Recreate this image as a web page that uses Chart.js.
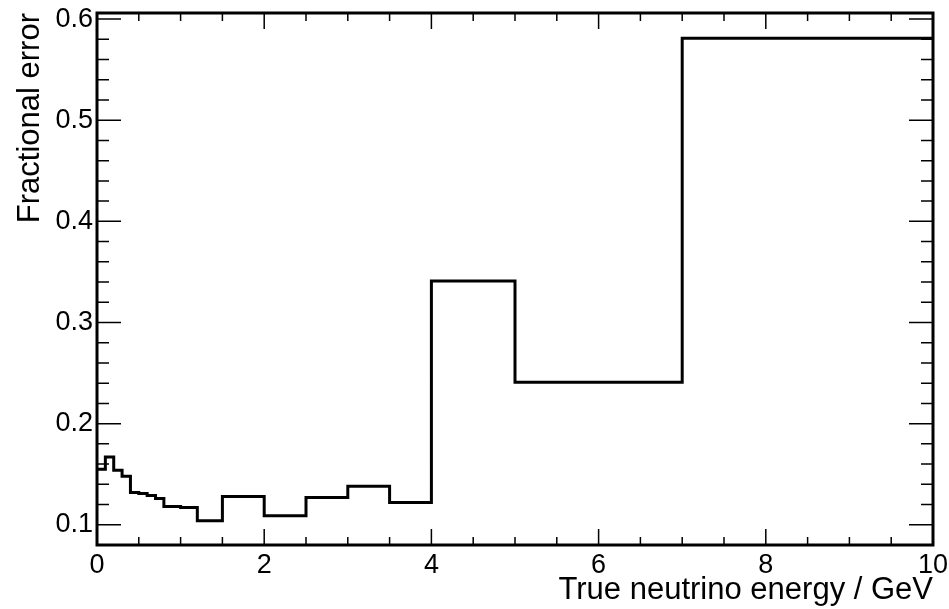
<!DOCTYPE html>
<html>
<head>
<meta charset="utf-8">
<script src="https://cdn.jsdelivr.net/npm/chart.js@4/dist/chart.umd.min.js"></script>
<style>
  body { margin: 0; background: #fff; }
  canvas { display: block; }
</style>
</head>
<body>
<canvas id="err-chart" width="949" height="609"></canvas>
<script>
// bin edges in GeV (last bin ends at 10)
const binEdges = [0, 0.1, 0.2, 0.3, 0.4, 0.5, 0.6, 0.7, 0.8, 1.0, 1.2, 1.5, 2.0, 2.5, 3.0, 3.5, 4.0, 5.0, 7.0, 10.0];
const fracError = [0.155, 0.167, 0.154, 0.148, 0.132, 0.131, 0.129, 0.126, 0.118, 0.117,
                   0.104, 0.128, 0.109, 0.127, 0.138, 0.122, 0.341, 0.241, 0.581];
const xTicks = [0, 2, 4, 6, 8, 10];
const yTicks = [0.1, 0.2, 0.3, 0.4, 0.5, 0.6];

const FONT = '"Liberation Sans", Arial, Helvetica, sans-serif';

// histogram points: one per left edge, plus the closing edge
var points = binEdges.map((e, i) => ({ x: e, y: fracError[Math.min(i, fracError.length - 1)] }));

// ROOT-style frame with ticks pointing inwards on all four sides
const rootFrame = {
    id: 'rootFrame',
    afterDatasetsDraw(chart) {
        const ctx = chart.ctx;
        const a = chart.chartArea;
        const xs = chart.scales.x, ys = chart.scales.y;
        ctx.save();
        ctx.strokeStyle = '#000';
        ctx.lineWidth = 1.5;
        ctx.beginPath();
        for (let v = 0; v <= 10.001; v += 0.5) {
            const px = xs.getPixelForValue(v);
            const len = Math.abs(v / 2 - Math.round(v / 2)) < 1e-6 ? 16 : 8;
            ctx.moveTo(px, a.bottom); ctx.lineTo(px, a.bottom - len);
            ctx.moveTo(px, a.top); ctx.lineTo(px, a.top + len);
        }
        for (let k = 5; k <= 30; k++) {
            const v = k * 0.02;
            if (v > ys.max) break;
            const py = ys.getPixelForValue(v);
            const len = k % 5 === 0 ? 24 : 12;
            ctx.moveTo(a.left, py); ctx.lineTo(a.left + len, py);
            ctx.moveTo(a.right, py); ctx.lineTo(a.right - len, py);
        }
        ctx.stroke();
        ctx.lineWidth = 3;
        ctx.strokeRect(a.left, a.top, a.right - a.left, a.bottom - a.top);
        ctx.restore();
    }
};

function fixX(scale) {
    scale.height = 64;
    scale.paddingLeft = 0; scale.paddingRight = 0;
}
function fixY(scale) {
    scale.width = 97;
    scale.paddingTop = 0; scale.paddingBottom = 0;
}

Chart.defaults.color = '#000';
new Chart(document.getElementById('err-chart'), {
    type: 'line',
    data: {
        datasets: [{
            label: 'Fractional error',
            data: points,
            stepped: 'before',
            borderColor: '#000',
            borderWidth: 3,
            pointRadius: 0,
            fill: false
        }]
    },
    options: {
        responsive: false,
        animation: false,
        layout: { padding: { left: 0, top: 13, right: 16, bottom: 0 } },
        plugins: { legend: { display: false }, tooltip: { enabled: false } },
        scales: {
            x: {
                type: 'linear',
                min: 0,
                max: 10,
                afterBuildTicks: s => { s.ticks = xTicks.map(v => ({ value: v })); },
                afterFit: fixX,
                grid: { display: false, drawTicks: false },
                border: { display: false },
                ticks: {
                    padding: 4,
                    maxRotation: 0,
                    color: '#000',
                    font: { family: FONT, size: 27 },
                    callback: v => String(v)
                },
                title: {
                    display: true,
                    text: 'True neutrino energy / GeV',
                    align: 'end',
                    color: '#000',
                    padding: { top: 0, bottom: 0 },
                    font: { family: FONT, size: 31 }
                }
            },
            y: {
                type: 'linear',
                min: 0.08,
                max: 0.606,
                afterBuildTicks: s => { s.ticks = yTicks.map(v => ({ value: v })); },
                afterFit: fixY,
                grid: { display: false, drawTicks: false },
                border: { display: false },
                ticks: {
                    padding: 4,
                    color: '#000',
                    font: { family: FONT, size: 27 },
                    callback: v => v.toFixed(1)
                },
                title: {
                    display: true,
                    text: 'Fractional error',
                    align: 'end',
                    color: '#000',
                    padding: { top: 12, bottom: 0 },
                    font: { family: FONT, size: 31 }
                }
            }
        }
    },
    plugins: [rootFrame]
});
</script>
</body>
</html>
